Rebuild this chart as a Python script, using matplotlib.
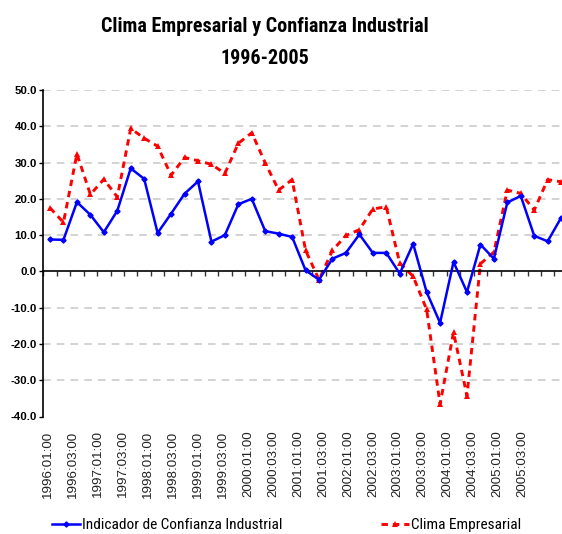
import numpy as np
import matplotlib.pyplot as plt
from matplotlib.lines import Line2D

# -------------------------
# データ（四半期, 1996:01 → 2005:03）
# -------------------------
years = list(range(1996, 2006))
quarters = [f"{y}:{q:02d}:00" for y in years for q in range(1, 5)][:39]

confianza = [8.8, 8.7, 19.1, 15.6, 10.8, 16.7, 28.4, 25.5, 10.6, 15.9,
             21.4, 24.8, 8.2, 10.0, 18.5, 20.0, 11.1, 10.4, 9.5, 0.3,
             -2.3, 3.5, 5.1, 10.2, 5.1, 5.1, -0.6, 7.6, -5.7, -14.2,
             2.6, -5.7, 7.4, 3.5, 19.0, 20.8, 9.8, 8.3, 14.8]

clima = [17.5, 13.5, 32.4, 21.2, 25.4, 20.5, 39.4, 36.7, 34.5, 26.5,
         31.4, 30.5, 29.5, 27.0, 35.3, 38.2, 29.9, 22.4, 25.3, 5.8,
         -2.3, 5.8, 9.9, 11.5, 17.2, 17.8, 2.3, -1.4, -10.5, -36.6,
         -16.8, -34.3, 2.1, 5.3, 22.4, 21.5, 16.9, 25.3, 24.7]

yticks = np.arange(-40, 51, 10)
label_idx = list(range(0, len(quarters), 2))

narrow = ["Roboto Condensed", "DejaVu Sans"]
blue = "#0000ff"
red = "#ff0000"

# -------------------------
# 描画
# -------------------------
fig = plt.figure(figsize=(5.62, 5.34), dpi=100)
ax = fig.add_axes([43.3 / 562, 1 - 416.5 / 534, 538 / 562, (416.5 - 90) / 534])

x = np.arange(len(quarters))
ax.plot(x, confianza, color=blue, lw=1.8, marker="D", ms=2.6, zorder=3)
ax.plot(x, clima, color=red, lw=2.1, dashes=(2.2, 1.7), marker="^", ms=4.5,
        markeredgewidth=0, zorder=2)

ax.set_xlim(-0.5, 39.5)
ax.set_ylim(-40, 50)

# y軸
ax.set_yticks(yticks)
ax.set_yticklabels([f"{v:.1f}" for v in yticks], fontsize=8.2,
                   fontweight="bold", family=["Liberation Sans", "DejaVu Sans"])
ax.tick_params(axis="y", length=3, width=1, pad=1.5, direction="out")
for v in yticks:
    if v != 0:
        ax.axhline(v, color="#c8c8c8", lw=1.1, dashes=(5, 4), zorder=0)

# x軸（0 の位置に黒線, 目盛りは区切り位置）
for s in ["top", "right"]:
    ax.spines[s].set_visible(False)
ax.spines["bottom"].set_position(("data", 0))
ax.spines["bottom"].set_linewidth(1.2)
ax.spines["left"].set_linewidth(1.2)
ax.set_xticks(np.arange(-0.5, 40, 1))
ax.set_xticklabels([])
ax.tick_params(axis="x", length=3.5, width=1, direction="out", color="#333333")

# ラベルは下端（参照画像ではラベル間隔が少し詰まっている）
sec = ax.secondary_xaxis("bottom")
sec.spines["bottom"].set_visible(False)
sec.set_xticks([k * 0.929 - 0.15 for k in label_idx])
sec.set_xticklabels([quarters[k] for k in label_idx], rotation=90,
                    fontsize=9.6, color="#222222",
                    family=["Liberation Sans", "DejaVu Sans"])
sec.tick_params(axis="x", length=0, pad=10)

# タイトル
fig.text(265 / 562, 1 - 26 / 534, "Clima Empresarial y Confianza Industrial",
         ha="center", va="center", fontsize=14.5, fontweight="bold",
         fontstretch="condensed", family=narrow)
fig.text(265 / 562, 1 - 58 / 534, "1996-2005",
         ha="center", va="center", fontsize=14.5, fontweight="bold",
         fontstretch="condensed", family=narrow)

# 凡例
h1 = Line2D([], [], color=blue, lw=1.8, marker="D", ms=2.6)
h2 = Line2D([], [], color=red, lw=2.1, dashes=(2.2, 1.7), marker="^", ms=4.5,
            markeredgewidth=0)
fig.legend([h1, h2], ["Indicador de Confianza Industrial", "Clima Empresarial"],
           loc="center left", bbox_to_anchor=(52 / 562, 1 - 525 / 534), ncol=2,
           frameon=False, handlelength=1.8, handletextpad=0.15, columnspacing=6.4,
           borderpad=0, borderaxespad=0,
           prop={"family": narrow, "size": 11.1, "stretch": "condensed"})

fig.savefig("out.png", dpi=100)
